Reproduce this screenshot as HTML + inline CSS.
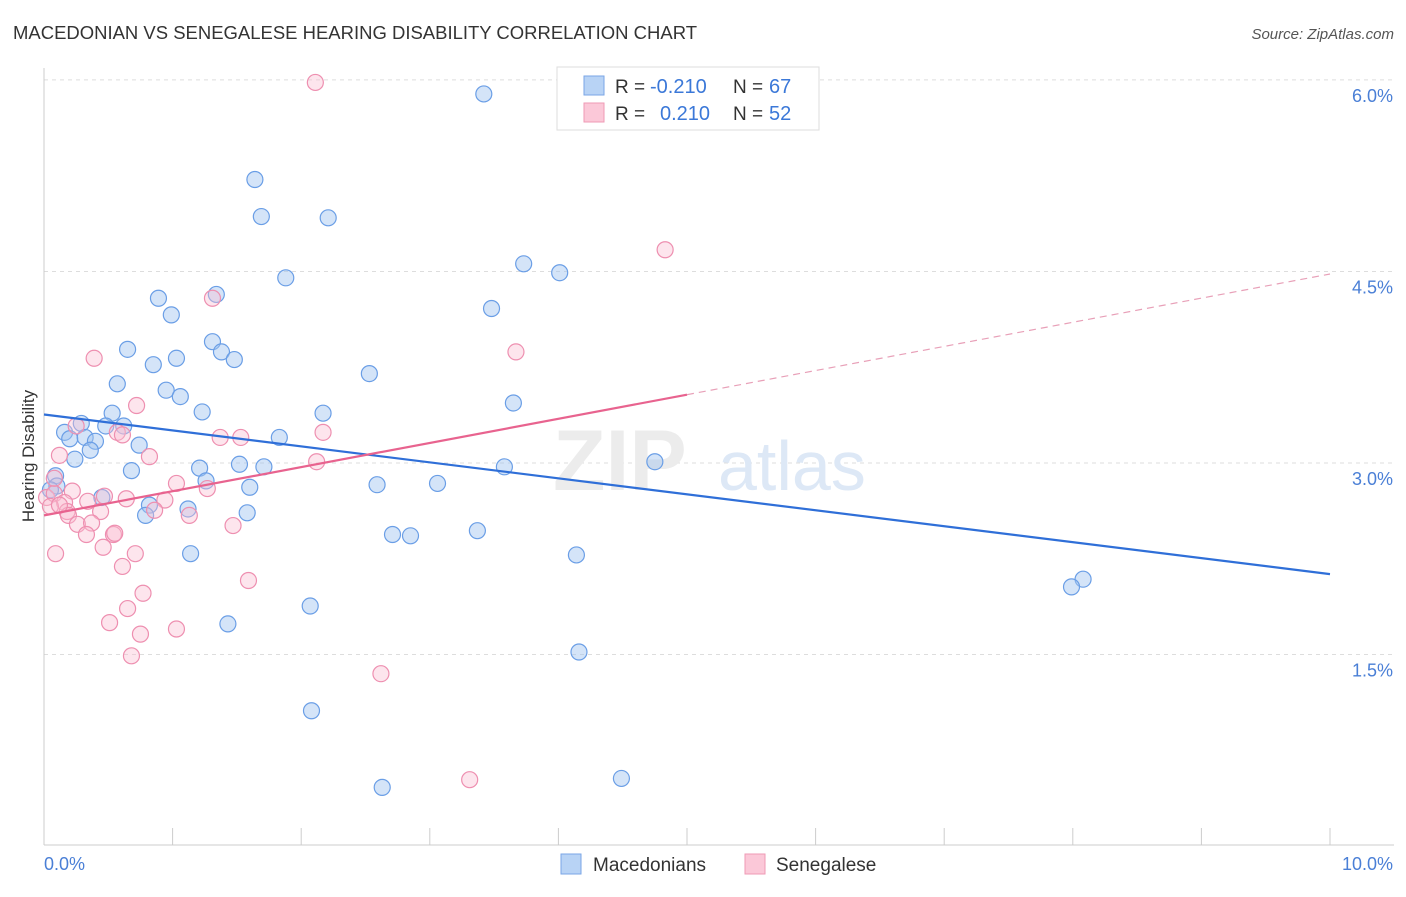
<!DOCTYPE html>
<html><head><meta charset="utf-8"><style>
body{margin:0;background:#fff;font-family:"Liberation Sans",sans-serif}
svg text{font-family:"Liberation Sans",sans-serif}
</style></head><body>
<svg id="chart" width="1406" height="892" viewBox="0 0 1406 892" xmlns="http://www.w3.org/2000/svg">
<text x="13" y="39" font-size="18" fill="#333" textLength="684" lengthAdjust="spacingAndGlyphs">MACEDONIAN VS SENEGALESE HEARING DISABILITY CORRELATION CHART</text>
<text x="1394" y="39" font-size="15" fill="#555" font-style="italic" text-anchor="end">Source: ZipAtlas.com</text>
<g id="grid"></g>
<text x="553" y="490" font-size="86" fill="#ececec" font-family="Liberation Serif" font-weight="bold">ZIP</text>
<text x="718" y="490" font-size="70" fill="#dde8f6">atlas</text>
<line x1="44" y1="68" x2="44" y2="845" stroke="#ccc"/>
<line x1="44" y1="845" x2="1394" y2="845" stroke="#ccc"/>
<text transform="translate(34,456) rotate(-90)" font-size="17" fill="#333" text-anchor="middle">Hearing Disability</text>
<text x="44" y="870" font-size="18" fill="#4a7fd6">0.0%</text>
<text x="1393" y="870" font-size="18" fill="#4a7fd6" text-anchor="end">10.0%</text>
<g id="pts"></g>
<g id="trends"></g>
<g>
<rect x="557" y="67" width="262" height="63" fill="#fff" stroke="#ddd"/>
<rect x="584" y="76" width="20" height="19" fill="#b8d3f5" stroke="#7aa6e6"/>
<rect x="584" y="103" width="20" height="19" fill="#fbc8d8" stroke="#ef9ab5"/>
<text x="615" y="93" font-size="19" fill="#333">R =</text>
<text x="650" y="93" font-size="20" fill="#3b78d8">-0.210</text>
<text x="733" y="93" font-size="19" fill="#333">N =</text>
<text x="769" y="93" font-size="20" fill="#3b78d8">67</text>
<text x="615" y="120" font-size="19" fill="#333">R =</text>
<text x="660" y="120" font-size="20" fill="#3b78d8">0.210</text>
<text x="733" y="120" font-size="19" fill="#333">N =</text>
<text x="769" y="120" font-size="20" fill="#3b78d8">52</text>
</g>
<g>
<rect x="561" y="854" width="20" height="20" fill="#b8d3f5" stroke="#7aa6e6"/>
<text x="593" y="871" font-size="19" fill="#333">Macedonians</text>
<rect x="745" y="854" width="20" height="20" fill="#fbc8d8" stroke="#ef9ab5"/>
<text x="776" y="871" font-size="19" fill="#333">Senegalese</text>
</g>
</svg>
<script>
const yTicks=[1.5,3.0,4.5,6.0];
const yTickLabels=["1.5%","3.0%","4.5%","6.0%"];
const xTicks=[0,1,2,3,4,5,6,7,8,9,10];
const macX=[3.42,1.64,1.69,2.21,1.88,3.73,4.01,0.89,0.99,1.34,3.48,0.65,1.31,1.38,1.48,0.85,1.03,0.57,0.95,1.06,2.53,3.65,1.23,0.53,2.17,0.29,0.62,0.48,0.16,0.20,0.32,0.40,0.36,0.74,1.83,0.24,1.21,1.52,1.71,3.58,4.75,0.68,0.09,0.10,0.05,1.26,1.60,2.59,3.06,0.45,0.82,1.12,0.79,1.58,2.71,2.85,3.37,1.14,4.14,8.08,7.99,2.07,1.43,4.16,2.08,4.49,2.63];
const macY=[5.89,5.22,4.93,4.92,4.45,4.56,4.49,4.29,4.16,4.32,4.21,3.89,3.95,3.87,3.81,3.77,3.82,3.62,3.57,3.52,3.70,3.47,3.40,3.39,3.39,3.31,3.29,3.29,3.24,3.19,3.20,3.17,3.10,3.14,3.20,3.03,2.96,2.99,2.97,2.97,3.01,2.94,2.90,2.82,2.79,2.86,2.81,2.83,2.84,2.73,2.67,2.64,2.59,2.61,2.44,2.43,2.47,2.29,2.28,2.09,2.03,1.88,1.74,1.52,1.06,0.53,0.46];
const senX=[2.11,4.83,1.31,0.39,3.67,0.72,0.57,0.25,0.61,1.37,1.53,2.17,0.82,0.12,2.12,1.03,1.27,0.47,0.64,0.94,0.02,0.08,0.22,0.16,0.18,0.05,0.86,0.19,0.44,1.13,0.26,0.37,1.47,0.33,0.54,0.46,0.09,0.71,0.61,1.59,0.77,0.65,0.51,1.03,0.75,0.68,2.62,3.31,0.08,0.34,0.55,0.12];
const senY=[5.98,4.67,4.29,3.82,3.87,3.45,3.24,3.29,3.22,3.20,3.20,3.24,3.05,3.06,3.01,2.84,2.80,2.74,2.72,2.71,2.73,2.76,2.78,2.69,2.62,2.66,2.63,2.59,2.62,2.59,2.52,2.53,2.51,2.44,2.44,2.34,2.29,2.29,2.19,2.08,1.98,1.86,1.75,1.70,1.66,1.49,1.35,0.52,2.88,2.70,2.45,2.67];
const macTrend=[-0.210,3.38,2.13];
const senTrend=[0.210,2.59,4.48];
const NS="http://www.w3.org/2000/svg";
const X=v=>44+v*128.6, Y=v=>463-(v-3)*127.7;
function mk(tag,attrs,parent){const e=document.createElementNS(NS,tag);for(const k in attrs)e.setAttribute(k,attrs[k]);parent.appendChild(e);return e;}
const grid=document.getElementById('grid');
yTicks.forEach((t,i)=>{
 const l=mk('line',{x1:44,x2:1394,y1:Y(t),y2:Y(t),stroke:'#ddd','stroke-dasharray':'4,4'},grid);
 
 
 const tx=mk('text',{x:1393,y:Y(t)+22,'font-size':18,fill:'#4a7fd6','text-anchor':'end'},grid);
 tx.textContent=yTickLabels[i];
 
 
});
xTicks.forEach(t=>{
 const l=mk('line',{x1:X(t),x2:X(t),y1:828,y2:845,stroke:'#ccc'},grid);
 
 
});
const pts=document.getElementById('pts');
macX.forEach((x,i)=>{
 const c=mk('circle',{cx:X(x),cy:Y(macY[i]),r:8,fill:'rgba(160,196,240,0.45)',stroke:'#6a9ee6','stroke-width':1.2},pts);
 
 
});
senX.forEach((x,i)=>{
 const c=mk('circle',{cx:X(x),cy:Y(senY[i]),r:8,fill:'rgba(250,190,210,0.4)',stroke:'#ee8fb0','stroke-width':1.2},pts);
 
 
});
const tr=document.getElementById('trends');
const l1=mk('line',{x1:X(0),y1:Y(macTrend[1]),x2:X(10),y2:Y(macTrend[2]),stroke:'#2f6fd8','stroke-width':2.2},tr);


const mid=senTrend[1]+(senTrend[2]-senTrend[1])*0.5;
const l2=mk('line',{x1:X(0),y1:Y(senTrend[1]),x2:X(5),y2:Y(mid),stroke:'#e8638f','stroke-width':2.2},tr);


const l3=mk('line',{x1:X(5),y1:Y(mid),x2:X(10),y2:Y(senTrend[2]),stroke:'#e8a0b8','stroke-width':1.2,'stroke-dasharray':'7,5'},tr);


</script>
</body></html>
